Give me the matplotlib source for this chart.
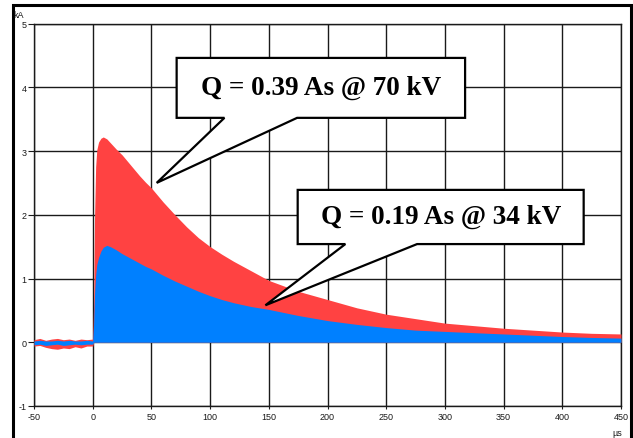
import matplotlib.pyplot as plt
from matplotlib.patches import Polygon, Rectangle

plt.rcParams["font.family"] = ["Liberation Sans", "DejaVu Sans"]
plt.rcParams["axes.unicode_minus"] = False

time_us = [
    -50, -45, -40, -35, -30, -25, -20, -15, -10, -5, 0,
    0.8, 1.5, 2.5, 3.5, 5, 7, 9, 12, 15, 20, 25, 30, 35, 40, 45, 50,
    60, 70, 80, 90, 100, 110, 120, 135, 150, 175, 200, 225, 250,
    275, 300, 325, 350, 375, 400, 425, 450
]

red_top = [
    0.04, 0.06, 0.03, 0.05, 0.06, 0.04, 0.05, 0.03, 0.05, 0.04, 0.05,
    0.60, 1.90, 2.75, 3.02, 3.14, 3.20, 3.22, 3.19, 3.13, 3.03, 2.94,
    2.83, 2.72, 2.61, 2.51, 2.42, 2.20, 2.00, 1.81, 1.64, 1.50, 1.38,
    1.27, 1.12, 0.97, 0.80, 0.67, 0.54, 0.44, 0.37, 0.30, 0.26, 0.22,
    0.19, 0.16, 0.14, 0.13
]

red_bottom = [
    -0.06, -0.05, -0.08, -0.10, -0.11, -0.09, -0.10, -0.07, -0.09,
    -0.06, -0.06,
    0, 0, 0, 0, 0, 0, 0, 0, 0, 0, 0, 0, 0, 0, 0, 0,
    0, 0, 0, 0, 0, 0, 0, 0, 0, 0, 0, 0, 0,
    0, 0, 0, 0, 0, 0, 0, 0
]

blue_top = [
    0.02, 0.03, 0.02, 0.02, 0.03, 0.02, 0.03, 0.02, 0.02, 0.03, 0.02,
    0.30, 0.75, 1.05, 1.22, 1.33, 1.43, 1.49, 1.52, 1.50, 1.45, 1.39,
    1.34, 1.29, 1.24, 1.19, 1.15, 1.05, 0.96, 0.88, 0.80, 0.73, 0.67,
    0.62, 0.56, 0.515, 0.42, 0.34, 0.28, 0.23, 0.19, 0.17, 0.15, 0.13,
    0.11, 0.09, 0.075, 0.065
]

blue_bottom = [
    -0.04, -0.03, -0.05, -0.04, -0.03, -0.05, -0.04, -0.03, -0.04,
    -0.03, -0.03,
    0, 0, 0, 0, 0, 0, 0, 0, 0, 0, 0, 0, 0, 0, 0, 0,
    0, 0, 0, 0, 0, 0, 0, 0, 0, 0, 0, 0, 0,
    0, 0, 0, 0, 0, 0, 0, 0
]

x_ticks = [-50, 0, 50, 100, 150, 200, 250, 300, 350, 400, 450]
y_ticks = [-1, 0, 1, 2, 3, 4, 5]

callout_texts = [
    "Q = 0.39 As @ 70 kV",
    "Q = 0.19 As @ 34 kV"
]

# box (x0, x1, y0, y1), pointer base (xa, xb), tip (x, y), text centre
callouts = [
    ((71.5, 317.2, 3.52, 4.46), (112.2, 174.1), (54.5, 2.50), (194.4, 4.0)),
    ((174.6, 418.2, 1.54, 2.39), (215.2, 276.3), (147.1, 0.58), (296.4, 1.97))
]

fig = plt.figure(
    figsize=(6.33, 4.39),
    dpi=100
)

ax = fig.add_axes(
    [34 / 633, 1 - 407 / 439, 587 / 633, 382.5 / 439]
)

ax.fill_between(
    time_us,
    red_bottom,
    red_top,
    color="#FF4242",
    linewidth=0,
    zorder=3
)

ax.fill_between(
    time_us,
    blue_bottom,
    blue_top,
    color="#0080FF",
    linewidth=0,
    zorder=4
)

ax.set_xlim(-50, 450)
ax.set_ylim(-1, 5)
ax.set_xticks(x_ticks)
ax.set_yticks(y_ticks)

ax.grid(
    True,
    color="#1a1a1a",
    linewidth=1.0,
    zorder=1
)
ax.set_axisbelow(True)

for side in ["left", "right", "top", "bottom"]:
    ax.spines[side].set_color("#1a1a1a")
    ax.spines[side].set_linewidth(1.0)
    ax.spines[side].set_zorder(1)

ax.tick_params(
    axis="y",
    length=4,
    width=0.8,
    pad=1.5,
    labelsize=6.5,
    colors="#1a1a1a"
)
ax.tick_params(
    axis="x",
    length=2.5,
    width=0.8,
    pad=2,
    labelsize=6.5,
    colors="#1a1a1a"
)

for (box, base, tip, centre), text in zip(callouts, callout_texts):
    x0, x1, y0, y1 = box
    verts = [
        (x0, y1),
        (x1, y1),
        (x1, y0),
        (base[1], y0),
        tip,
        (base[0], y0),
        (x0, y0)
    ]
    ax.add_patch(
        Polygon(
            verts,
            closed=True,
            facecolor="white",
            edgecolor="black",
            linewidth=1.6,
            zorder=6,
            joinstyle="miter"
        )
    )
    ax.text(
        centre[0],
        centre[1],
        text,
        ha="center",
        va="center",
        fontsize=19.5,
        fontweight="bold",
        family="Liberation Serif",
        zorder=7
    )

fig.text(
    13 / 633,
    1 - 15 / 439,
    "kA",
    fontsize=6.5,
    ha="left",
    va="center",
    color="#1a1a1a"
)

fig.text(
    622 / 633,
    1 - 434 / 439,
    "µs",
    fontsize=6.5,
    ha="right",
    va="center",
    color="#1a1a1a"
)

fig.patches.append(
    Rectangle(
        (12.5 / 633, -0.05),
        618.5 / 633,
        1.05 - 5.5 / 439,
        transform=fig.transFigure,
        fill=False,
        edgecolor="black",
        linewidth=2.2
    )
)

fig.savefig("out.png", dpi=100)
